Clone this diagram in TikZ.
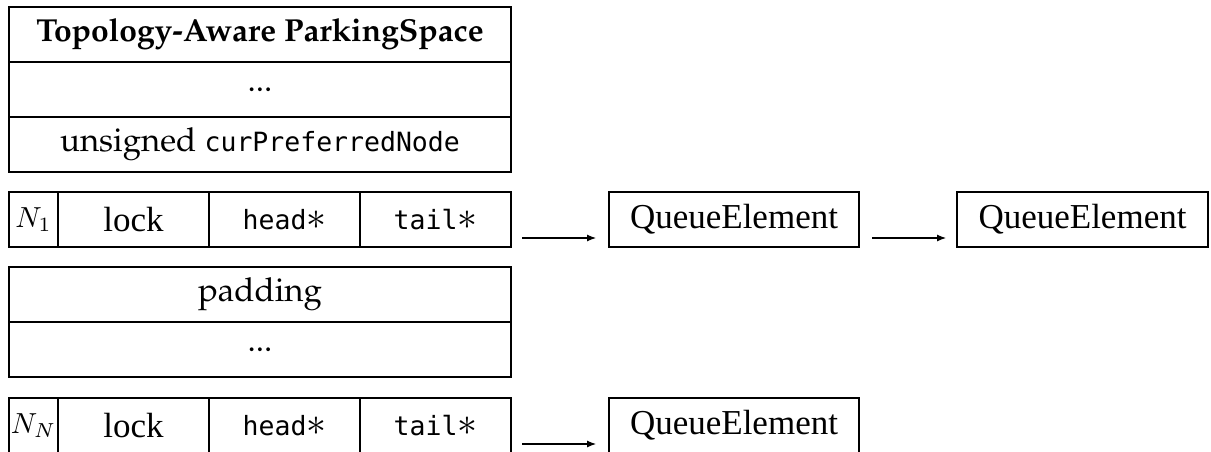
\documentclass[tikz,border=0pt]{standalone}
\usepackage[T1]{fontenc}
\usepackage{fontspec}
\usepackage{graphicx}
\usetikzlibrary{arrows.meta,calc}
\newfontfamily\tmsfont{Liberation Serif}
\newfontfamily\codefont{DejaVu Sans Mono}
\newcommand\palfont{\fontencoding{T1}\fontfamily{ppl}\selectfont}
\newcommand\palsize{\fontsize{33}{38}\selectfont}
\newcommand\tmssize{\fontsize{35}{40}\selectfont}
\newcommand\codesize{\fontsize{26.5}{30}\selectfont}
\newcommand\code[1]{{\codefont\codesize #1}}
% pointer field: name followed by a math asterisk
\newcommand\ptr[1]{\code{#1\scalebox{1.6}{$\ast$}}}
% queue tag in math italic, enlarged as a whole
\newcommand\qtag[1]{\scalebox{2.9}{$#1$}}
\tikzset{
  cell/.style={draw, line width=1.1pt, inner sep=0pt, outer sep=0pt,
    anchor=north west, minimum height=55pt},
  wide/.style={cell, minimum width=502pt},
  tag/.style={cell, minimum width=49pt, font=\normalsize},
  field/.style={cell, minimum width=151pt},
  elem/.style={cell, minimum width=250pt, font=\tmsfont\tmssize},
  pal/.style={font=\palfont\palsize},
  link/.style={line width=1.1pt, -{Latex[length=9pt,width=7pt]}}
}
\begin{document}
\begin{tikzpicture}[x=1pt,y=-1pt]
\useasboundingbox (0,0) rectangle (1211,452);

% struct header
\node[wide, font=\palfont\bfseries\fontsize{31.8}{36}\selectfont] (title) at (9,7) {Topology-Aware ParkingSpace};
\node[wide, pal] (dotsA) at (title.south west) {...};
\node[wide, pal] (pref) at (dotsA.south west) {unsigned \code{curPreferredNode}};

% per-node queue 1
\node[tag] (n1) at (9,192) {\qtag{N_1}};
\node[field, font=\tmsfont\tmssize] (lock1) at (n1.north east) {lock};
\node[field] (head1) at (lock1.north east) {\ptr{head}};
\node[field] (tail1) at (head1.north east) {\ptr{tail}};
\node[elem] (q1) at (609,192) {QueueElement};
\node[elem, minimum width=251pt] (q2) at (957,192) {QueueElement};
\draw[link] ($(tail1.south east)+(11,-9)$) -- ($(q1.south west)+(-13,-9)$);
\draw[link] ($(q1.south east)+(13,-9)$) -- ($(q2.south west)+(-11,-9)$);

% padding
\node[wide, pal] (pad) at (9,267) {padding};
\node[wide, pal] (dotsB) at (pad.south west) {...};

% per-node queue N
\node[tag] (nN) at (9,398) {\qtag{N_N}};
\node[field, font=\tmsfont\tmssize] (lockN) at (nN.north east) {lock};
\node[field] (headN) at (lockN.north east) {\ptr{head}};
\node[field] (tailN) at (headN.north east) {\ptr{tail}};
\node[elem] (q3) at (609,398) {QueueElement};
\draw[link] ($(tailN.south east)+(11,-9)$) -- ($(q3.south west)+(-13,-9)$);
\end{tikzpicture}
\end{document}
